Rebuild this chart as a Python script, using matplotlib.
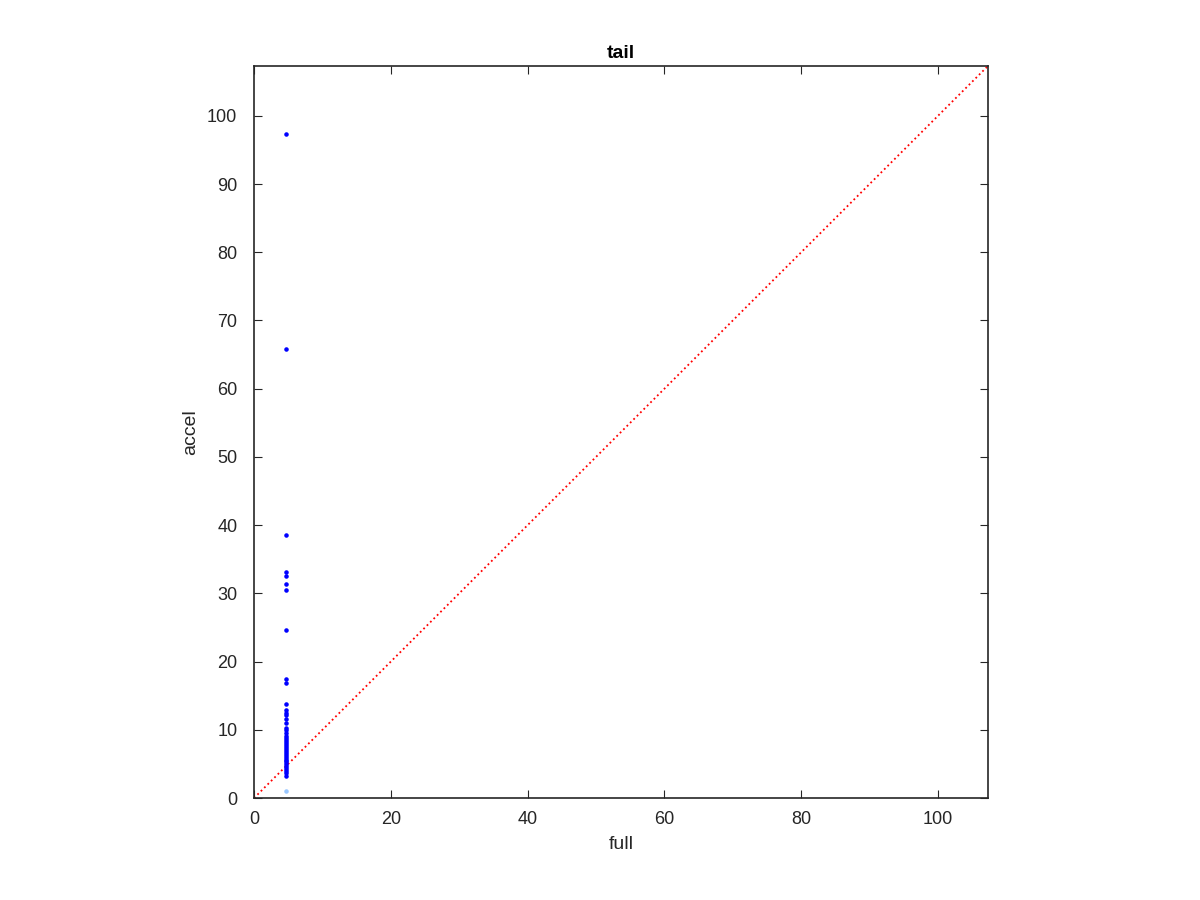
import numpy as np
import matplotlib.pyplot as plt

plt.rcParams['font.family'] = ['Liberation Sans', 'DejaVu Sans']

# accel values (dark blue points), all at full ~ 4.7
accel = [97.4, 65.8, 38.6, 33.2, 32.6, 31.4, 30.5, 24.6, 17.4, 16.8,
         13.8, 12.9, 12.5, 12.1, 11.6, 11.0, 10.3, 9.9, 9.5, 9.1,
         8.8, 8.5, 8.2, 7.9, 7.6, 7.3, 7.0, 6.8, 6.5, 6.2,
         5.9, 5.6, 5.4, 5.1, 4.8, 4.5, 4.2, 3.9, 3.6, 3.3]
full = [4.7] * len(accel)
# single light-blue point
full_low = [4.7]
accel_low = [1.0]
lim = 107.3

fig = plt.figure(figsize=(12, 9), dpi=100)
ax = fig.add_axes([0.2117, 0.1133, 0.6116, 0.8134])

ax.plot([0, lim], [0, lim], ':', color='red', lw=1.3)
ax.plot(full, accel, '.', color=(0, 0, 1), ms=4.5)
ax.plot(full_low, accel_low, '.', color=(0.6, 0.78, 1), ms=4.5)

ax.set_xlim(0, lim)
ax.set_ylim(0, lim)
ax.set_xticks([0, 20, 40, 60, 80, 100])
ax.set_yticks(range(0, 101, 10))
ax.tick_params(direction='in', top=True, right=True, labelsize=13, length=6,
               colors='#262626')
ax.tick_params(axis='y', pad=12)
ax.tick_params(axis='x', pad=9)
for s in ax.spines.values():
    s.set_color('#262626')
    s.set_linewidth(1.2)
ax.set_xlabel('full', fontsize=14, color='#262626', labelpad=6)
ax.set_ylabel('accel', fontsize=14, color='#262626', labelpad=6)
ax.set_title('tail', fontsize=14, fontweight='bold')

plt.savefig('out.png')
